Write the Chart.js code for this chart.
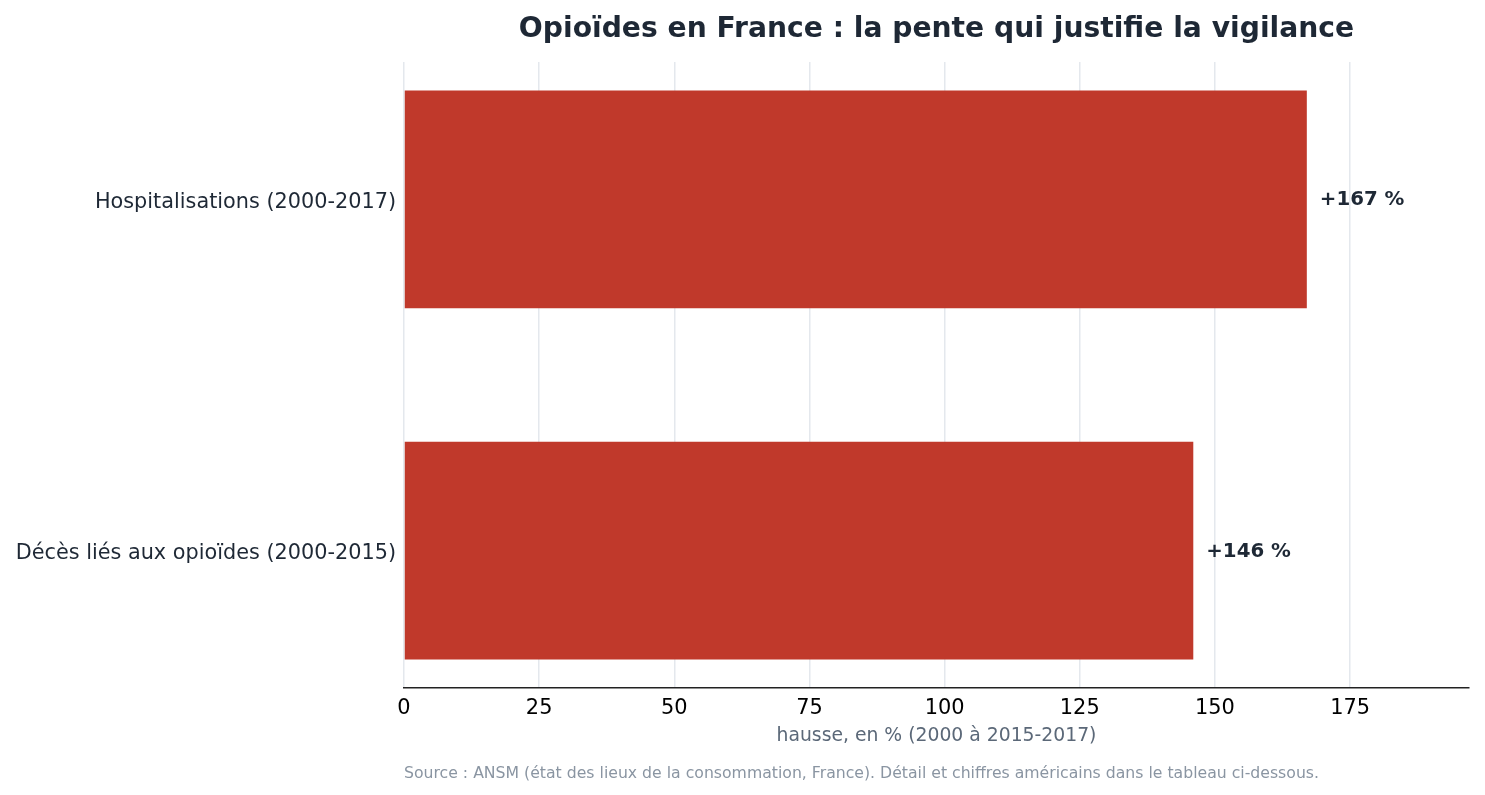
<!DOCTYPE html>
<html lang="fr">
<head>
<meta charset="utf-8">
<title>Opioïdes en France</title>
<script src="https://cdn.jsdelivr.net/npm/chart.js@4.4.1/dist/chart.umd.min.js"></script>
<style>
  html, body { margin: 0; padding: 0; background: #ffffff; }
  #wrap { width: 1485px; height: 795px; }
</style>
</head>
<body>
<div id="wrap"><canvas id="chart" width="1485" height="795"></canvas></div>
<script>
// Données
const categories = ['Hospitalisations (2000-2017)', 'Décès liés aux opioïdes (2000-2015)'];
const hausses = [167, 146];
const valueLabels = ['+167 %', '+146 %'];
const xTicks = [0, 25, 50, 75, 100, 125, 150, 175];

const FONT = "'DejaVu Sans', 'Liberation Sans', sans-serif";
const TEXT_DARK = '#1e2835';

// Titre, étiquettes de valeur et source
const extrasPlugin = {
  id: 'extras',
  afterDatasetsDraw(chart) {
    const ctx = chart.ctx;
    const meta = chart.getDatasetMeta(0);
    ctx.save();
    ctx.font = `bold 19.8px ${FONT}`;
    ctx.fillStyle = TEXT_DARK;
    ctx.textAlign = 'left';
    ctx.textBaseline = 'middle';
    meta.data.forEach((bar, i) => {
      ctx.fillText(valueLabels[i], bar.x + 13, bar.y + 1);
    });
    ctx.restore();
  },
  afterDraw(chart) {
    const ctx = chart.ctx;
    const area = chart.chartArea;
    const cx = (area.left + area.right) / 2;
    ctx.save();
    ctx.textBaseline = 'alphabetic';

    ctx.font = `bold 28.2px ${FONT}`;
    ctx.fillStyle = TEXT_DARK;
    ctx.textAlign = 'center';
    ctx.fillText('Opioïdes en France : la pente qui justifie la vigilance', cx, 37);

    ctx.font = `18.8px ${FONT}`;
    ctx.fillStyle = '#5b6878';
    ctx.fillText('hausse, en % (2000 à 2015-2017)', cx, 741);

    ctx.font = `15.7px ${FONT}`;
    ctx.fillStyle = '#8a95a2';
    ctx.textAlign = 'left';
    ctx.fillText('Source : ANSM (état des lieux de la consommation, France). Détail et chiffres américains dans le tableau ci-dessous.', area.left, 778);
    ctx.restore();
  }
};

new Chart(document.getElementById('chart'), {
  type: 'bar',
  data: {
    datasets: [{
      data: hausses.map((v, i) => ({ x: v, y: i })),
      backgroundColor: '#c0392b',
      borderWidth: 0,
      barPercentage: 0.62,
      categoryPercentage: 1
    }]
  },
  options: {
    indexAxis: 'y',
    responsive: false,
    animation: false,
    devicePixelRatio: 1,
    layout: { padding: { top: 62, right: 16, left: 0, bottom: 0 } },
    plugins: {
      legend: { display: false },
      tooltip: { enabled: false }
    },
    scales: {
      x: {
        type: 'linear',
        min: 0,
        max: 197,
        afterBuildTicks: scale => { scale.ticks = xTicks.map(v => ({ value: v })); },
        afterFit: scale => { scale.height = 107; },
        grid: { color: '#e4e8ed', lineWidth: 1.5, drawTicks: false },
        border: { display: true, color: '#222222', width: 1.5 },
        ticks: {
          color: '#000000',
          font: { family: FONT, size: 20.9 },
          padding: 8
        }
      },
      y: {
        type: 'linear',
        reverse: true,
        offset: false,
        min: -0.391,
        max: 1.391,
        afterBuildTicks: scale => { scale.ticks = categories.map((c, i) => ({ value: i })); },
        afterFit: scale => { scale.width = 404; },
        grid: { display: false, drawTicks: false, offset: false },
        border: { display: false },
        ticks: {
          color: TEXT_DARK,
          font: { family: FONT, size: 20.8 },
          padding: 8,
          labelOffset: 3,
          callback: v => categories[v]
        }
      }
    }
  },
  plugins: [extrasPlugin]
});
</script>
</body>
</html>
